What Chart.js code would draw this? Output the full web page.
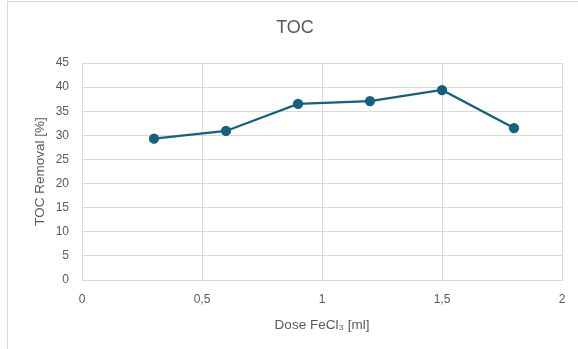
<!DOCTYPE html>
<html>
<head>
<meta charset="utf-8">
<script src="https://cdn.jsdelivr.net/npm/chart.js@4"></script>
<style>
  html, body { margin: 0; padding: 0; background: #ffffff; overflow: hidden; }
  #frame { position: absolute; left: 7px; top: 1px; width: 640px; height: 400px;
           border-left: 1.5px solid #d9d9d9; border-top: 1.5px solid #d9d9d9; }
  #c { position: absolute; left: 0; top: 0; }
</style>
</head>
<body>
<div id="frame"></div>
<canvas id="c" width="578" height="349"></canvas>
<script>
const doses = [0.3, 0.6, 0.9, 1.2, 1.5, 1.8];
const tocRemoval = [29.3, 30.9, 36.5, 37.1, 39.4, 31.5];
const chartTitle = 'TOC';
const xTitle = 'Dose FeCl\u2083 [ml]';
const yTitle = 'TOC Removal [%]';

const FONT = "'Liberation Sans', Arial, sans-serif";
const TXT = '#595959';
const GRID = '#d9d9d9';

const titlePlugin = {
  id: 'frameTitle',
  afterDraw(chart) {
    const ctx = chart.ctx;
    ctx.save();
    ctx.fillStyle = TXT;
    ctx.font = "18px " + FONT;
    ctx.textAlign = 'center';
    ctx.textBaseline = 'middle';
    ctx.fillText(chartTitle, 295, 28.5);
    ctx.restore();
  }
};

new Chart(document.getElementById('c'), {
  type: 'line',
  data: {
    datasets: [{
      label: 'TOC',
      data: doses.map((d, i) => ({ x: d, y: tocRemoval[i] })),
      borderColor: '#156082',
      backgroundColor: '#156082',
      borderWidth: 2.25,
      pointRadius: 4,
      pointHoverRadius: 4,
      pointBackgroundColor: '#156082',
      pointBorderColor: '#156082',
      tension: 0,
      fill: false
    }]
  },
  plugins: [titlePlugin],
  options: {
    responsive: false,
    animation: false,
    events: [],
    layout: { padding: { left: 0, right: 16, top: 63, bottom: 0 } },
    plugins: {
      legend: { display: false },
      tooltip: { enabled: false },
      title: { display: false }
    },
    scales: {
      x: {
        type: 'linear',
        min: 0, max: 2,
        afterFit: s => { s.height = 69; },
        ticks: {
          stepSize: 0.5,
          color: TXT,
          padding: 12,
          font: { family: FONT, size: 12 },
          callback: v => String(v).replace('.', ',')
        },
        grid: { color: GRID, lineWidth: 1, drawTicks: false },
        border: { color: GRID, width: 1 },
        title: {
          display: true,
          text: xTitle,
          color: TXT,
          font: { family: FONT, size: 13.5, lineHeight: 1.2 },
          padding: { top: 0, bottom: 16 }
        }
      },
      y: {
        min: 0, max: 45,
        afterFit: s => { s.width = 82; },
        ticks: {
          stepSize: 5,
          color: TXT,
          padding: 13,
          font: { family: FONT, size: 12 }
        },
        grid: { color: GRID, lineWidth: 1, drawTicks: false },
        border: { color: GRID, width: 1 },
        title: {
          display: true,
          text: yTitle,
          color: TXT,
          font: { family: FONT, size: 13.5, lineHeight: 1.2 },
          padding: { top: 32, bottom: 0 }
        }
      }
    }
  }
});
</script>
</body>
</html>
